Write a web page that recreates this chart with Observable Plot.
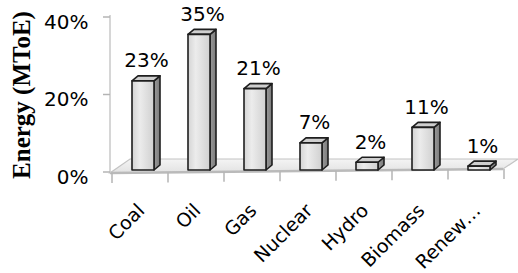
<!DOCTYPE html>
<html><head><meta charset="utf-8">
<script src="https://cdn.jsdelivr.net/npm/d3@7"></script>
<script src="https://cdn.jsdelivr.net/npm/@observablehq/plot@0.6"></script>
<style>body{margin:0;background:#fff} svg{display:block}</style>
</head><body><div id="chart"></div>
<script>
const categories = ["Coal", "Oil", "Gas", "Nuclear", "Hydro", "Biomass", "Renew…"];
const values = [23, 35, 21, 7, 2, 11, 1];
const yTicks = [0, 20, 40];
const yLabel = "Energy (MToE)";

const data = categories.map((c, i) => ({cat: c, value: values[i]}));

// 3D scene: floor, axis line, ticks and bar boxes, drawn through Plot's scales
function scene(index, scales) {
  const x = scales.x, y = scales.y;
  const bw = x(categories[1]) - x(categories[0]);
  const xs = x(categories[0]);
  const xe = x(categories[categories.length - 1]) + bw;
  const yb = y(yTicks[0]), yt = y(yTicks[yTicks.length - 1]);
  const g = d3.create("svg:g");
  const defs = g.append("defs");
  const gf = defs.append("linearGradient").attr("id", "gFront").attr("x1", 0).attr("x2", 1).attr("y1", 0).attr("y2", 0);
  gf.append("stop").attr("offset", 0).attr("stop-color", "#d4d4d4");
  gf.append("stop").attr("offset", 0.35).attr("stop-color", "#ececec");
  gf.append("stop").attr("offset", 1).attr("stop-color", "#d0d0d0");
  const gs = defs.append("linearGradient").attr("id", "gSide").attr("x1", 0).attr("x2", 1).attr("y1", 0).attr("y2", 0);
  gs.append("stop").attr("offset", 0).attr("stop-color", "#9a9a9a");
  gs.append("stop").attr("offset", 1).attr("stop-color", "#7a7a7a");
  const gfl = defs.append("linearGradient").attr("id", "gFloor").attr("x1", 0).attr("x2", 0).attr("y1", 0).attr("y2", 1);
  gfl.append("stop").attr("offset", 0).attr("stop-color", "#f4f4f4");
  gfl.append("stop").attr("offset", 1).attr("stop-color", "#e2e2e2");

  // floor
  const fl = xs - 2, fr = xe - 1;
  const floor = [[fl, yb + 1], [fr, yb - 3], [fr + 15, yb - 13], [fl + 20, yb - 13]];
  g.append("path").attr("d", "M" + floor.join("L") + "Z")
    .attr("fill", "url(#gFloor)").attr("stroke", "#c4c4c4").attr("stroke-width", 1.2);
  g.append("line").attr("x1", fl).attr("y1", yb + 1).attr("x2", fr).attr("y2", yb - 3)
    .attr("stroke", "#bababa").attr("stroke-width", 2.5);

  // y axis line and ticks
  g.append("line").attr("x1", fl).attr("x2", fl).attr("y1", yt - 2).attr("y2", yb + 1)
    .attr("stroke", "#c8c8c8").attr("stroke-width", 1.5);
  for (const t of yTicks) {
    g.append("line").attr("x1", fl - 7).attr("x2", fl).attr("y1", y(t)).attr("y2", y(t))
      .attr("stroke", "#b4b4b4").attr("stroke-width", 1.5);
  }
  // x ticks at category boundaries
  for (let i = 0; i <= categories.length; i++) {
    const xi = xs + i * bw;
    const yi = yb + 1 - 4 * (xi - fl) / (fr - fl);
    g.append("line").attr("x1", xi).attr("x2", xi).attr("y1", yi).attr("y2", yi + 10)
      .attr("stroke", "#b4b4b4").attr("stroke-width", 1.5);
  }

  // bars
  const dx = 6, dy = -5, lift = 2;
  for (const d of data) {
    const c = x(d.cat) + bw / 2;
    const l = c - 8, r = c + 14;
    const top = y(d.value) - lift, bot = yb - lift;
    const bar = g.append("g").attr("stroke", "#1e1e1e").attr("stroke-width", 1.6).attr("stroke-linejoin", "round");
    bar.append("path").attr("d", `M${r},${top}L${r + dx},${top + dy}L${r + dx},${bot + dy}L${r},${bot}Z`).attr("fill", "url(#gSide)");
    bar.append("path").attr("d", `M${l},${top}L${l + dx},${top + dy}L${r + dx},${top + dy}L${r},${top}Z`).attr("fill", "#cfcfcf");
    bar.append("rect").attr("x", l).attr("y", top).attr("width", r - l).attr("height", bot - top).attr("fill", "url(#gFront)");
  }
  return g.node();
}

const chart = Plot.plot({
  width: 518,
  height: 273,
  marginLeft: 112,
  marginRight: 14,
  marginTop: 17,
  marginBottom: 101,
  style: {fontFamily: "DejaVu Sans", fontSize: "20px", color: "#000", background: "#fff"},
  x: {type: "band", domain: categories, padding: 0, axis: null},
  y: {domain: [yTicks[0], yTicks[yTicks.length - 1]], axis: null},
  marks: [
    scene,
    Plot.axisY({ticks: yTicks, tickFormat: d => d + "%", tickSize: 0, tickPadding: 24, dy: 5, fontSize: 20, label: null}),
    Plot.text(data, {x: "cat", y: "value", text: d => d.value + "%", dx: 6, dy: -16, lineAnchor: "bottom", fontSize: 20, fill: "#000"}),
    Plot.text(data, {x: "cat", frameAnchor: "bottom", text: "cat", rotate: -45, textAnchor: "end", lineAnchor: "middle", dx: 1, dy: 35, fontSize: 19, fill: "#000"}),
    Plot.text([yLabel], {frameAnchor: "left", text: d => d, rotate: -90, dx: -83, textAnchor: "middle", lineAnchor: "bottom", fontFamily: "Liberation Serif", fontWeight: "bold", fontSize: 25, fill: "#000"})
  ]
});
document.getElementById("chart").appendChild(chart);
</script>
</body></html>
